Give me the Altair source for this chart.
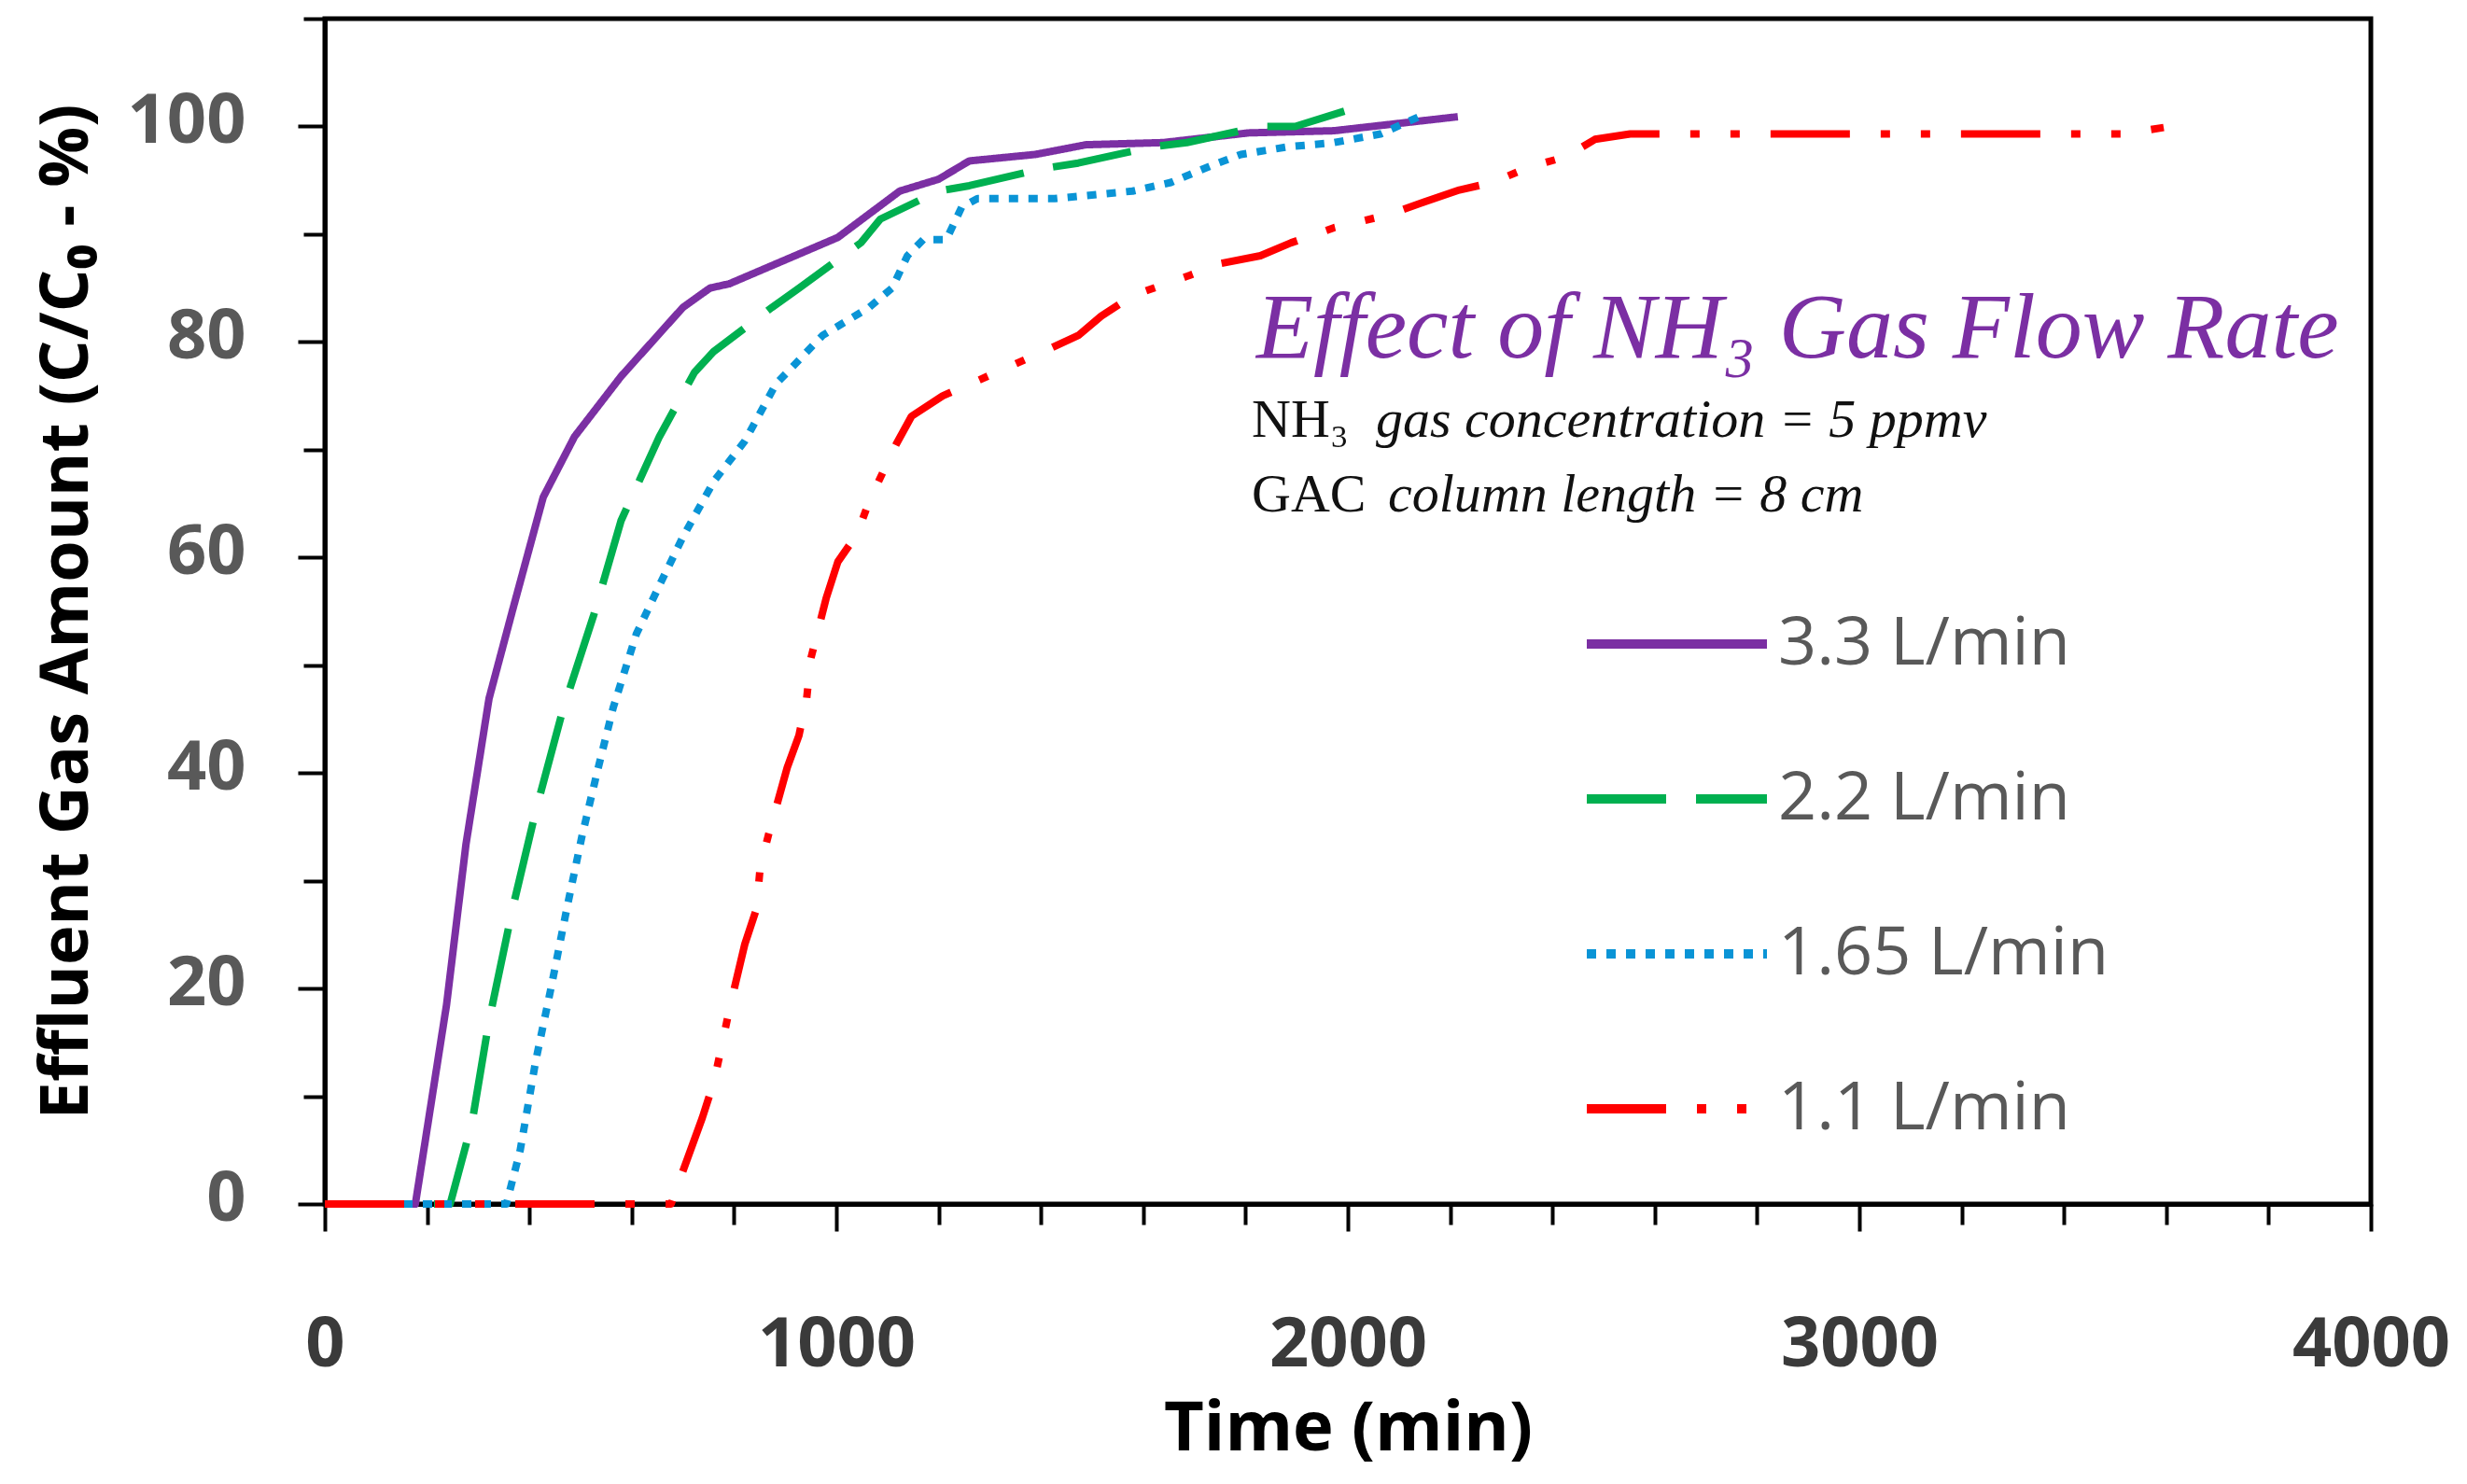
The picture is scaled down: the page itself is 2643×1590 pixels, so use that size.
import altair as alt
import pandas as pd

series_names = ["3.3 L/min", "2.2 L/min", "1.65 L/min", "1.1 L/min"]

t_33 = [0, 177, 238, 276, 321, 367, 427, 488, 579, 700, 753, 791, 1003, 1124, 1200, 1260, 1389, 1488, 1639, 1806, 1973, 2215]
c_33 = [0, 0, 18.5, 33.4, 46.9, 55.1, 65.6, 71.2, 76.8, 83.2, 85.0, 85.4, 89.7, 94.0, 95.1, 96.8, 97.4, 98.3, 98.5, 99.4, 99.6, 100.9]

t_22 = [0, 245, 288, 321, 367, 412, 465, 526, 579, 654, 723, 760, 874, 927, 1048, 1086, 1200, 1260, 1404, 1473, 1617, 1685, 1829, 1897, 2026]
c_22 = [0, 0, 7.6, 17, 27.4, 36.4, 45.8, 54.7, 63.4, 71.2, 77.2, 79.1, 83.2, 85.0, 89.2, 91.4, 94.0, 94.5, 96.1, 96.6, 98.1, 98.5, 100, 100, 101.9]

t_165 = [0, 355, 382, 412, 442, 473, 503, 533, 564, 609, 654, 700, 761, 821, 882, 973, 1064, 1109, 1139, 1170, 1215, 1245, 1276, 1427, 1579, 1654, 1730, 1791, 1882, 1973, 2064, 2139]
c_165 = [0, 0, 5, 13.2, 20, 27.4, 34.2, 40.2, 46.1, 52.9, 57.4, 61.9, 67.1, 70.8, 76.1, 80.6, 83.2, 85.0, 88.0, 89.5, 89.5, 92.5, 93.3, 93.3, 94.0, 94.8, 96.3, 97.4, 98.1, 98.5, 99.3, 100.9]

t_11 = [0, 677, 692, 738, 761, 776, 791, 821, 844, 851, 867, 904, 927, 942, 950, 980, 1003, 1041, 1064, 1117, 1147, 1208, 1276, 1404, 1473, 1518, 1579, 1692, 1753, 1829, 1889, 1973, 2079, 2150, 2218, 2283, 2353, 2427, 2483, 2552, 3517, 3595]
c_11 = [0, 0, 2, 8, 11.4, 14.7, 18.1, 24.1, 27.4, 31.2, 34.2, 40.5, 43.5, 46.9, 50.6, 56.2, 59.6, 62.2, 65.2, 70.5, 73.1, 75.0, 76.4, 79.1, 80.6, 82.4, 84.3, 86.2, 87.3, 88.0, 89.2, 90.6, 91.8, 93.0, 94.1, 94.8, 96.2, 97.2, 98.8, 99.3, 99.3, 99.9]

x_ticks = list(range(0, 4001, 200))
y_ticks = list(range(0, 111, 10))

title_text = "Effect of NH₃ Gas Flow Rate"
note1_a, note1_b = "NH₃", "gas concentration = 5 ppmv"
note2_a, note2_b = "GAC", "column length = 8 cm"
x_title = "Time (min)"
y_title = "Effluent Gas Amount (C/C₀ - %)"

rows = []
for name, ts, cs in zip(series_names, [t_33, t_22, t_165, t_11], [c_33, c_22, c_165, c_11]):
    for i, (t, c) in enumerate(zip(ts, cs)):
        rows.append({"series": name, "t": t, "c": c, "i": i})
df = pd.DataFrame(rows)

colors = ["#7B2FA3", "#00B050", "#0A94D6", "#FF0000"]
dashes = [[1, 0], [85, 32], [10, 11], [85, 33, 10, 33, 10, 33]]
color_scale = alt.Scale(domain=series_names, range=colors)
dash_scale = alt.Scale(domain=series_names, range=dashes)

W, H = 2192, 1270

lines = alt.Chart(df).mark_line(strokeWidth=8, strokeJoin="round").encode(
    x=alt.X("t:Q", scale=alt.Scale(domain=[0, 4000], nice=False, zero=False),
            axis=alt.Axis(values=x_ticks, format="d",
                          labelExpr="datum.value % 1000 === 0 ? datum.label : ''",
                          labelOverlap=False, labelFlush=False,
                          labelFont="Open Sans", labelFontSize=74, labelFontWeight="bold",
                          labelColor="#3a3a3a", labelPadding=86,
                          tickSize={"condition": {"test": "datum.value % 1000 === 0", "value": 29}, "value": 22},
                          tickWidth=4, tickColor="black", domainColor="black", domainWidth=5,
                          grid=False, title=x_title, titleFont="Open Sans", titleFontSize=74,
                          titleFontWeight="bold", titleColor="black", titlePadding=17)),
    y=alt.Y("c:Q", scale=alt.Scale(domain=[0, 110], nice=False),
            axis=alt.Axis(values=y_ticks, format="d",
                          labelExpr="datum.value % 20 === 0 && datum.value <= 100 ? datum.label : ''",
                          labelOverlap=False, labelFlush=False,
                          labelFont="Open Sans", labelFontSize=74, labelFontWeight="bold",
                          labelColor="#595959", labelPadding=56, labelOffset=-5,
                          tickSize={"condition": {"test": "datum.value % 20 === 0", "value": 29}, "value": 23},
                          tickWidth=4, tickColor="black", domainColor="black", domainWidth=5,
                          grid=False, title=y_title, titleFont="Open Sans", titleFontSize=72,
                          titleFontWeight="bold", titleColor="black", titlePadding=40)),
    color=alt.Color("series:N", scale=color_scale, legend=None),
    strokeDash=alt.StrokeDash("series:N", scale=dash_scale, legend=None),
    order=alt.Order("i:Q"),
)

leg_df = pd.DataFrame({"series": series_names})
leg_y = alt.Y("series:N", scale=alt.Scale(type="point", domain=series_names, range=[670, 1168], padding=0), axis=None)

leg_rules = alt.Chart(leg_df).mark_rule(strokeWidth=10).encode(
    x=alt.value(1352), x2=alt.value(1545), y=leg_y,
    color=alt.Color("series:N", scale=color_scale, legend=None),
    strokeDash=alt.StrokeDash("series:N", scale=dash_scale, legend=None),
)
leg_text = alt.Chart(leg_df).mark_text(align="left", baseline="middle", font="Open Sans",
                                       fontSize=72, color="#595959").encode(
    x=alt.value(1557), y=leg_y, text="series:N")


def note(text, x, y, size, style, color):
    return alt.Chart(pd.DataFrame({"s": [text]})).mark_text(
        align="left", baseline="alphabetic", font="Liberation Serif", fontSize=size,
        fontStyle=style, color=color).encode(x=alt.value(x), y=alt.value(y), text="s:N")


notes = [
    note(title_text, 998, 363, 100, "italic", "#7B2FA3"),
    note(note1_a, 993, 448, 58, "normal", "#111111"),
    note(note1_b, 1126, 448, 58, "italic", "#111111"),
    note(note2_a, 993, 528, 58, "normal", "#111111"),
    note(note2_b, 1139, 528, 58, "italic", "#111111"),
]

chart = alt.layer(lines, leg_rules, leg_text, *notes).resolve_scale(y="independent").properties(
    width=W, height=H,
    autosize=alt.AutoSizeParams(type="none"),
    padding={"left": 340, "top": 12, "right": 95, "bottom": 292},
).configure_view(stroke="black", strokeWidth=5)

chart.save("out.html", embed_options={"renderer": "svg", "actions": False})
